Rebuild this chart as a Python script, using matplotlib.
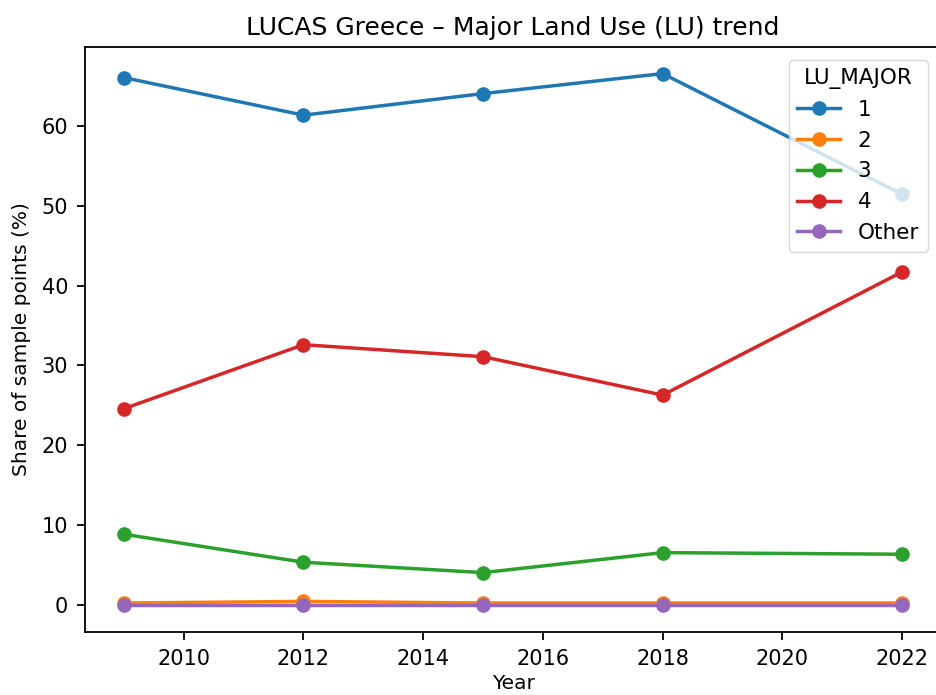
import matplotlib
matplotlib.use('Agg')
from matplotlib import pyplot as plt

years = [2009, 2012, 2015, 2018, 2022]
lu_1 = [66.0, 61.3, 64.0, 66.5, 51.4]
lu_2 = [0.3, 0.5, 0.3, 0.3, 0.3]
lu_3 = [8.9, 5.4, 4.1, 6.6, 6.4]
lu_4 = [24.6, 32.6, 31.1, 26.3, 41.7]
lu_other = [0.0, 0.0, 0.0, 0.0, 0.0]

series = [('1', lu_1), ('2', lu_2), ('3', lu_3), ('4', lu_4), ('Other', lu_other)]

fig = plt.figure(figsize=(9.36, 6.95), dpi=100)
ax = fig.add_axes([85/936, 1-632/695, (941-85)/936, (632-47)/695])

for name, vals in series:
	ax.plot(years, vals, marker='o', linewidth=2.5, markersize=9.5, label=name)

ax.set_title('LUCAS Greece – Major Land Use (LU) trend', fontsize=18, pad=9)
ax.set_xlabel('Year', fontsize=14.5, labelpad=4)
ax.set_ylabel('Share of sample points (%)', fontsize=14.5, labelpad=8)
ax.tick_params(labelsize=15, width=1.3, length=6, pad=6)
for s in ax.spines.values():
	s.set_linewidth(1.3)
ax.legend(title='LU_MAJOR', loc='upper right', fontsize=15.5, title_fontsize=15.5,
	bbox_to_anchor=(0.997, 0.997))

fig.savefig('out.png', dpi=100)
